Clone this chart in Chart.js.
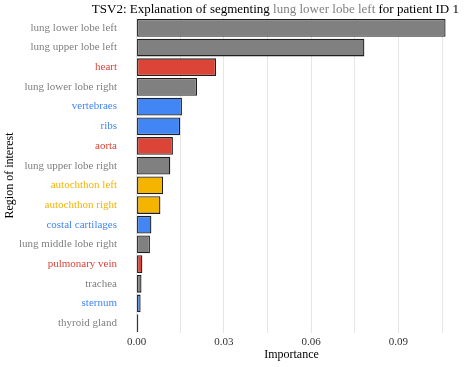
<!DOCTYPE html>
<html>
<head>
<meta charset="utf-8">
<script src="https://cdn.jsdelivr.net/npm/chart.js@4"></script>
<style>
  html, body { margin: 0; padding: 0; background: #fff; }
  #wrap { width: 466px; height: 367px; }
</style>
</head>
<body>
<div id="wrap"><canvas id="myChart" width="466" height="367"></canvas></div>
<script>
// Regiones y su importancia
const regions = [
  'lung lower lobe left', 'lung upper lobe left', 'heart', 'lung lower lobe right',
  'vertebraes', 'ribs', 'aorta', 'lung upper lobe right',
  'autochthon left', 'autochthon right', 'costal cartilages', 'lung middle lobe right',
  'pulmonary vein', 'trachea', 'sternum', 'thyroid gland'
];
const importance = [
  0.1062, 0.0783, 0.0273, 0.0208,
  0.0156, 0.0150, 0.0125, 0.0116,
  0.0091, 0.0082, 0.0051, 0.0046,
  0.0020, 0.0017, 0.0014, 0.0006
];
const groups = [
  'lung', 'lung', 'cardio', 'lung',
  'bone', 'bone', 'cardio', 'lung',
  'muscle', 'muscle', 'bone', 'lung',
  'cardio', 'lung', 'bone', 'lung'
];
const xTicks = [0, 0.015, 0.03, 0.045, 0.06, 0.075, 0.09, 0.105];

const groupColors = {
  lung: '#808080',
  cardio: '#DB4437',
  bone: '#4285F4',
  muscle: '#F4B400'
};
const barColors = groups.map(g => groupColors[g]);

const serif = "'Liberation Serif', 'DejaVu Serif', serif";

// Título con el nombre de la región en gris
const titlePlugin = {
  id: 'titulo',
  afterDraw(chart) {
    const c = chart.ctx;
    const parts = [
      ['TSV2: Explanation of segmenting ', '#000000'],
      ['lung lower lobe left', '#808080'],
      [' for patient ID 1', '#000000']
    ];
    c.save();
    c.font = '13px ' + serif;
    c.textBaseline = 'alphabetic';
    c.textAlign = 'left';
    const total = parts.reduce((s, p) => s + c.measureText(p[0]).width, 0);
    let x = 459 - total;
    parts.forEach(p => {
      c.fillStyle = p[1];
      c.fillText(p[0], x, 13);
      x += c.measureText(p[0]).width;
    });
    c.restore();
  }
};

const ctx = document.getElementById('myChart').getContext('2d');

new Chart(ctx, {
  type: 'bar',
  data: {
    labels: regions,
    datasets: [{
      label: 'Importance',
      data: importance,
      backgroundColor: barColors,
      borderColor: '#1f1f1f',
      borderWidth: 1.3,
      borderSkipped: false,
      barPercentage: 0.9,
      categoryPercentage: 1.0
    }]
  },
  options: {
    indexAxis: 'y',
    responsive: false,
    animation: false,
    layout: {
      padding: { top: 18, right: 5, bottom: 0, left: 0 }
    },
    plugins: {
      legend: { display: false },
      tooltip: { enabled: false }
    },
    scales: {
      x: {
        type: 'linear',
        min: -0.005,
        max: 0.1115,
        border: { display: false },
        grid: { color: '#e6e6e6', lineWidth: 1, drawTicks: false },
        afterBuildTicks: (scale) => {
          scale.ticks = xTicks.map(v => ({ value: v }));
        },
        afterFit: (scale) => { scale.height = 34; },
        ticks: {
          padding: 3,
          color: '#333333',
          font: { family: serif, size: 11 },
          autoSkip: false,
          maxRotation: 0,
          callback: function(value) {
            const k = Math.round(value / 0.015);
            return k % 2 === 0 ? value.toFixed(2) : '';
          }
        },
        title: {
          display: true,
          text: 'Importance',
          color: '#000000',
          font: { family: serif, size: 12 },
          padding: { top: 0, bottom: 5 }
        }
      },
      y: {
        border: { display: false },
        grid: { display: false, drawTicks: false },
        afterFit: (scale) => { scale.width = 122; },
        ticks: {
          padding: 5,
          autoSkip: false,
          font: { family: serif, size: 11 },
          color: (c) => barColors[c.index]
        },
        title: {
          display: true,
          text: 'Region of interest',
          color: '#000000',
          font: { family: serif, size: 12 },
          padding: { top: 3, bottom: 0 }
        }
      }
    }
  },
  plugins: [titlePlugin]
});
</script>
</body>
</html>
